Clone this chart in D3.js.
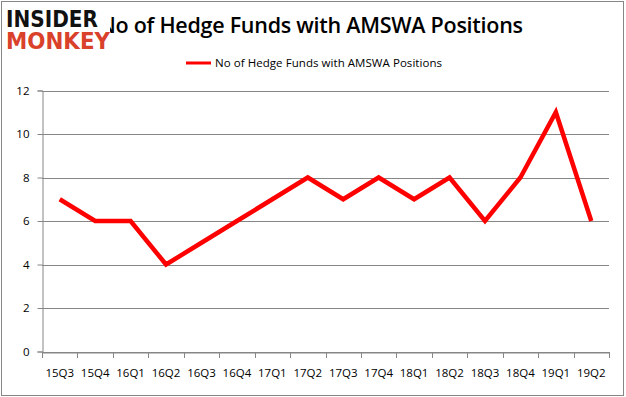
<!DOCTYPE html>
<html>
<head>
<meta charset="utf-8">
<script src="https://cdn.jsdelivr.net/npm/d3@7"></script>
<style>
  body { margin: 0; background: #fff; }
  svg { display: block; font-family: "Open Sans", "DejaVu Sans", sans-serif; }
</style>
</head>
<body>
<svg width="626" height="397"></svg>
<script>
// kwartalen en aantal hedge funds
var quarters = ["15Q3", "15Q4", "16Q1", "16Q2", "16Q3", "16Q4", "17Q1", "17Q2",
  "17Q3", "17Q4", "18Q1", "18Q2", "18Q3", "18Q4", "19Q1", "19Q2"]
var funds = [7, 6, 6, 4, 5, 6, 7, 8, 7, 8, 7, 8, 6, 8, 11, 6]
var yTicks = [0, 2, 4, 6, 8, 10, 12]

var title = "No of Hedge Funds with AMSWA Positions"

var svg = d3.select("svg")

var margin = { left: 42, right: 15, top: 90, bottom: 45 }
var width = +svg.attr("width")
var height = +svg.attr("height")

// kader
svg.append("rect")
  .attr("x", 1.5).attr("y", 1.5)
  .attr("width", width - 4).attr("height", height - 3)
  .attr("fill", "#fff")
  .attr("stroke", "#868686")

var x = d3.scaleBand()
  .domain(quarters)
  .range([margin.left, width - margin.right - 2])

var y = d3.scaleLinear()
  .domain([0, 12])
  .range([351.5, 90.5])

// rasterlijnen
svg.append("g")
  .selectAll("line")
  .data(yTicks)
  .join("line")
  .attr("x1", margin.left)
  .attr("x2", x.range()[1])
  .attr("y1", function(d) { return Math.round(y(d)) + 0.5 })
  .attr("y2", function(d) { return Math.round(y(d)) + 0.5 })
  .attr("stroke", "#868686")

// y-as
var yAxis = svg.append("g")
  .attr("transform", "translate(" + (margin.left + 0.5) + ",0)")
  .call(d3.axisLeft(y).tickValues(yTicks).tickSize(5).tickPadding(8))
yAxis.select(".domain").attr("stroke", "#868686")
yAxis.selectAll(".tick line").attr("stroke", "#868686")
yAxis.selectAll(".tick text").attr("font-size", 11.5).attr("fill", "#000")
  .attr("font-family", "'Open Sans', sans-serif")

// x-as
var xAxis = svg.append("g")
  .attr("transform", "translate(0," + (Math.round(y(0)) + 0.5) + ")")
  .call(d3.axisBottom(x).tickSize(0).tickPadding(16))
xAxis.select(".domain").attr("stroke", "#868686")
xAxis.selectAll(".tick text").attr("font-size", 11.5).attr("fill", "#000")
  .attr("font-family", "'Open Sans', sans-serif")

// tick streepjes tussen de kwartalen
var edges = quarters.map(function(q) { return x(q) }).concat([x.range()[1]])
svg.append("g")
  .selectAll("line")
  .data(edges)
  .join("line")
  .attr("x1", function(d) { return Math.round(d) + 0.5 })
  .attr("x2", function(d) { return Math.round(d) + 0.5 })
  .attr("y1", Math.round(y(0)))
  .attr("y2", Math.round(y(0)) + 6)
  .attr("stroke", "#868686")

// de lijn
var line = d3.line()
  .x(function(d, i) { return x(quarters[i]) + x.bandwidth() / 2 })
  .y(function(d) { return y(d) })

svg.append("path")
  .datum(funds)
  .attr("d", line)
  .attr("fill", "none")
  .attr("stroke", "#ff0000")
  .attr("stroke-width", 4.5)
  .attr("stroke-linejoin", "miter")

// titel
svg.append("text")
  .attr("x", 311)
  .attr("y", 33)
  .attr("text-anchor", "middle")
  .attr("font-size", 21.5)
  .attr("font-weight", 600)
  .attr("textLength", 424)
  .attr("fill", "#000")
  .text(title)

// legenda
svg.append("line")
  .attr("x1", 186).attr("x2", 211)
  .attr("y1", 63).attr("y2", 63)
  .attr("stroke", "#ff0000")
  .attr("stroke-width", 3)

svg.append("text")
  .attr("x", 215)
  .attr("y", 67)
  .attr("font-size", 11.5)
  .attr("textLength", 227)
  .attr("fill", "#000")
  .text(title)

// logo
var logo = svg.append("g")
logo.append("rect")
  .attr("x", 4).attr("y", 8).attr("width", 106).attr("height", 44)
  .attr("fill", "#fff")
logo.append("text")
  .attr("x", 6).attr("y", 27)
  .attr("font-family", "'DejaVu Sans', sans-serif")
  .attr("font-weight", "bold")
  .attr("font-size", 23)
  .attr("textLength", 92)
  .attr("lengthAdjust", "spacingAndGlyphs")
  .attr("fill", "#111")
  .text("INSIDER")
logo.append("text")
  .attr("x", 6).attr("y", 49)
  .attr("font-family", "'DejaVu Sans', sans-serif")
  .attr("font-weight", "bold")
  .attr("font-size", 23)
  .attr("textLength", 104)
  .attr("lengthAdjust", "spacingAndGlyphs")
  .attr("fill", "#d9412b")
  .text("MONKEY")
</script>
</body>
</html>
